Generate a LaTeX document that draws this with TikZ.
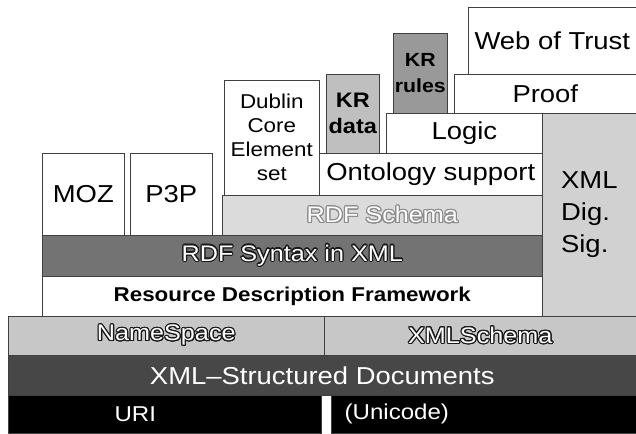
\documentclass[tikz,border=0pt]{standalone}
\usepackage{fontspec}
\setmainfont[FakeStretch=1.12]{Liberation Sans}
\usepackage[copies]{contour}
\contourlength{1.1pt}
\contournumber{20}
\newcommand{\bigtxt}{\fontsize{24.5}{32}\selectfont}
\newcommand{\midtxt}{\fontsize{20}{24}\selectfont}
\tikzset{
  layer/.style={draw=black!75, line width=0.6pt, inner sep=0pt, anchor=north west,
    align=center, font=\bigtxt},
  outlined/.style={text=white, font=\fontsize{22.5}{26}\selectfont},
}
\begin{document}
\begin{tikzpicture}[x=1pt, y=-1pt]
  \useasboundingbox[fill=white] (0, 0) rectangle (636, 433);

  % bottom rows
  \node[layer, fill=black, minimum width=313pt, minimum height=38pt,
    label={[xshift=-29.5pt, text=white, font=\fontsize{21.5}{24}\selectfont]center:URI}] (uri) at (8, 395) {};
  \node[layer, fill=black, minimum width=305pt, minimum height=38pt,
    label={[xshift=-87pt, text=white, font=\fontsize{21.5}{24}\selectfont]center:(Unicode)}] (unicode) at (331, 395) {};
  \node[layer, fill=black!72, text=white, minimum width=628pt, minimum height=40pt] (xmldoc) at (8, 355) {XML--Structured Documents};
  \node[layer, fill=black!22, outlined, minimum width=316pt, minimum height=39pt] (ns) at (8, 316) {\contour{black!90}{NameSpace}};
  \node[layer, fill=black!22, outlined, minimum width=312pt, minimum height=39pt] (xsd) at (324, 316) {\contour{black!90}{XMLSchema}};

  % RDF rows
  \node[layer, fill=white, minimum width=500pt, minimum height=40pt,
    font=\fontsize{20}{22}\selectfont\bfseries] (rdf) at (42, 276) {Resource Description Framework};
  \node[layer, fill=black!55, outlined, minimum width=500pt, minimum height=41pt] (syntax) at (42, 235) {\contour{black!90}{RDF Syntax in XML}};
  \node[layer, fill=black!14, outlined, minimum width=320pt, minimum height=40pt] (rdfsch) at (222, 195) {\contour{black!45}{RDF Schema}};

  % applications
  \node[layer, fill=white, minimum width=82pt, minimum height=82pt] (moz) at (42, 153) {MOZ};
  \node[layer, fill=white, minimum width=82pt, minimum height=82pt] (ppp) at (130, 153) {P3P};
  \node[layer, fill=white, minimum width=95pt, minimum height=115pt, font=\midtxt] (dc) at (224, 80) {Dublin\\Core\\Element\\set};
  \node[layer, fill=black!18, minimum width=94pt, minimum height=203pt, align=left] (dsig) at (542, 113) {XML\\Dig.\\Sig.};

  % upper layers
  \node[layer, fill=white, minimum width=223pt, minimum height=42pt] (onto) at (319, 153) {Ontology support};
  \node[layer, fill=black!25, minimum width=53pt, minimum height=79pt,
    font=\fontsize{21}{26}\selectfont\bfseries] (krdata) at (326, 74) {KR\\data};
  \node[layer, fill=white, minimum width=156pt, minimum height=40pt] (logic) at (386, 113) {Logic};
  \node[layer, fill=black!40, minimum width=54pt, minimum height=80pt,
    font=\fontsize{19}{26}\selectfont\bfseries] (krrules) at (393, 33) {KR\\rules};
  \node[layer, fill=white, minimum width=182pt, minimum height=39pt] (proof) at (454, 74) {Proof};
  \node[layer, fill=white, minimum width=168pt, minimum height=67pt] (trust) at (468, 7) {Web of Trust};
\end{tikzpicture}
\end{document}
